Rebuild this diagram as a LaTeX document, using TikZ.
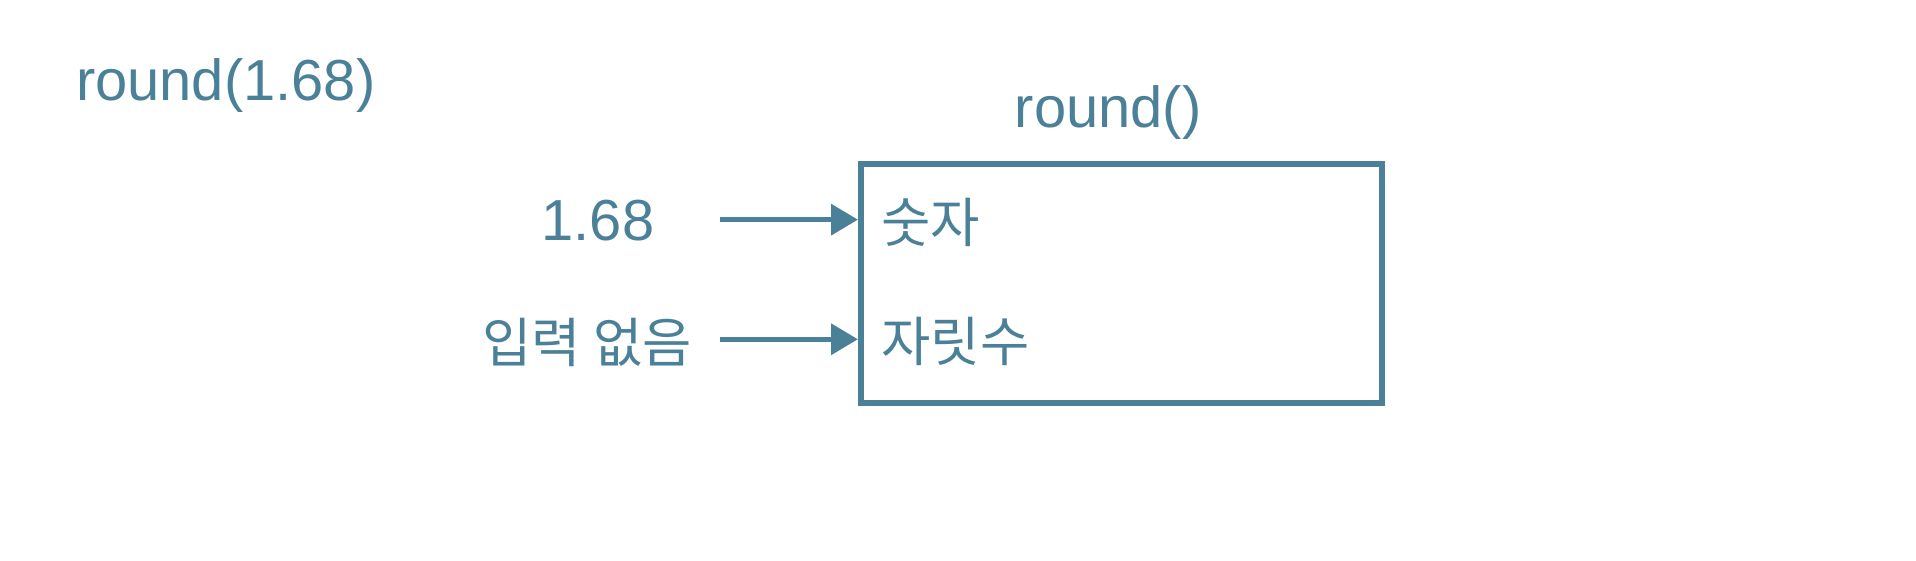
\documentclass[tikz,border=0pt]{standalone}
\usepackage{fontspec}
\setmainfont{Liberation Sans}
\newfontfamily\kr{Noto Sans CJK KR}
\usetikzlibrary{arrows.meta}
\definecolor{tc}{HTML}{4A8199}
\begin{document}
\begin{tikzpicture}[x=0.02cm,y=-0.02cm,
  txt/.style={text=tc,font=\fontsize{27}{30}\selectfont,inner sep=0},
  ktxt/.style={text=tc,font=\kr\fontsize{25}{30}\selectfont,inner sep=0},
  arr/.style={draw=tc,line width=0.08cm,-{Triangle[length=0.44cm,width=0.5cm]}}]
\useasboundingbox (0,0) rectangle (1570,459);
\node[txt,anchor=west] (title) at (62,70) {round(1.68)};
\node[draw=tc,line width=0.1cm,minimum width=427*0.02cm,minimum height=196*0.02cm,anchor=north west] (box) at (703,132) {};
\node[txt] (fn) at (908,92) {round()};
\node[txt] (v) at (490,181) {1.68};
\node[ktxt] (none) at (481,281) {입력 없음};
\node[ktxt,anchor=west] (a) at (722,182) {숫자};
\node[ktxt,anchor=west] (b) at (722,280) {자릿수};
\coordinate (s1) at (590,180);
\coordinate (s2) at (590,278);
\draw[arr] (s1) -- (box.west |- s1);
\draw[arr] (s2) -- (box.west |- s2);
\end{tikzpicture}
\end{document}
